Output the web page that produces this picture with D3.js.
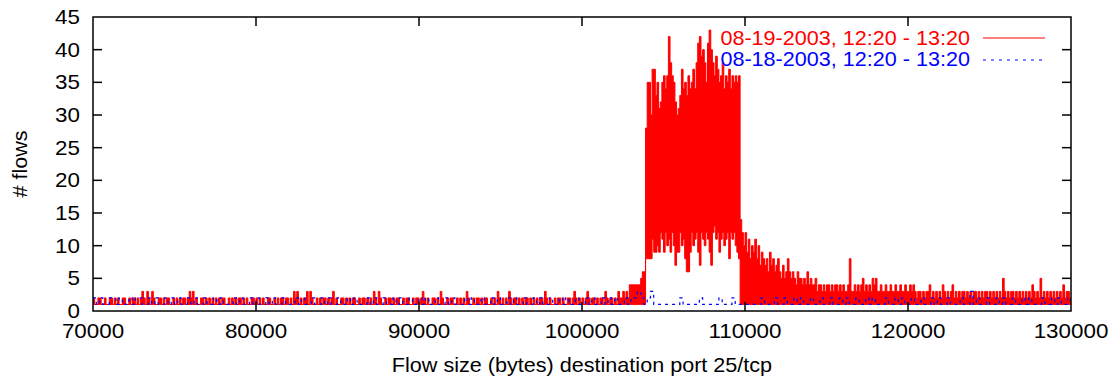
<!DOCTYPE html>
<html><head><meta charset="utf-8">
<script src="https://cdn.jsdelivr.net/npm/d3@7"></script>
<style>body{margin:0;background:#fff}svg{display:block}</style>
</head><body>
<svg id="chart" width="1118" height="380"></svg>
<script>
// ---- data ----
const xTicks = [70000, 80000, 90000, 100000, 110000, 120000, 130000];
const yTicks = [0, 5, 10, 15, 20, 25, 30, 35, 40, 45];
const xTitle = "Flow size (bytes) destination port 25/tcp";
const yTitle = "# flows";
const seriesLabels = ["08-19-2003, 12:20 - 13:20", "08-18-2003, 12:20 - 13:20"];

// red series (08-19): per 100-byte bin maximum, from 70000
const redBinStart = 70000, redBinWidth = 100;
const redMax = [
2,1,1,2,2,1,1,2,1,1,2,2,1,2,1,2,1,1,2,2,1,1,2,1,2,
2,1,2,1,2,3,2,1,3,2,1,3,2,1,1,2,2,1,2,1,2,2,1,1,2,
1,2,1,2,1,2,2,1,2,3,2,3,1,2,1,1,2,2,1,2,1,2,1,2,1,
2,1,2,1,2,2,1,1,2,1,2,1,2,1,2,2,1,2,1,2,1,1,2,2,1,
2,1,2,1,2,1,1,2,2,1,1,2,1,2,1,2,2,1,2,2,1,2,1,3,2,
3,1,2,1,2,2,3,1,3,2,1,1,2,1,2,1,2,2,1,2,1,2,3,1,2,
1,1,2,2,1,2,1,2,1,2,2,1,1,2,1,2,2,1,2,1,2,1,3,2,1,
3,2,1,1,2,1,2,2,1,2,1,2,2,1,1,2,1,2,2,1,1,2,1,2,2,
1,2,3,2,1,2,1,1,2,2,1,2,1,3,2,1,1,2,1,2,2,1,1,2,1,
2,1,2,1,3,2,1,1,2,1,2,2,1,2,1,2,2,1,1,2,1,2,1,3,2,
1,2,1,2,1,3,2,1,2,2,1,2,1,2,1,2,2,1,2,1,2,1,2,1,2,
2,1,3,2,1,2,1,1,2,1,2,2,1,2,1,1,2,2,1,2,3,2,1,2,1,
2,1,2,3,2,1,2,2,1,2,1,2,2,1,3,2,1,2,2,1,2,1,3,2,2,
3,2,3,2,4,4,4,4,4,4,4,5,6,6,
28,35,35,30,37,37,33,35,31,32,35,36,34,36,42,38,36,35,32,30,
31,33,37,34,35,33,36,34,35,37,34,38,41,42,39,40,38,35,41,43,
40,38,36,39,37,35,36,38,34,36,35,37,34,36,35,36,35,36,
14,12,10,12,9,11,8,10,9,11,
8,10,7,9,8,7,8,6,9,7,
8,6,7,8,6,5,7,5,6,8,
6,5,6,5,4,6,5,5,4,5,
4,6,4,5,4,4,5,3,4,4,
3,4,3,4,4,3,4,3,4,4,
3,4,3,4,3,3,4,8,3,3,
4,3,4,3,4,5,3,4,3,4,
3,5,4,5,3,3,4,3,3,4,
3,3,4,3,3,4,3,3,4,3,
3,4,3,3,
4,3,4,3,2,3,3,2,3,2,
3,3,4,2,3,2,3,2,3,2,
4,3,2,3,2,3,4,2,3,2,
3,2,3,3,2,3,2,3,2,3,
3,2,3,2,3,2,3,3,2,3,
2,3,2,3,2,3,2,5,3,2,
3,2,3,3,2,3,2,3,2,3,
2,3,2,3,2,4,3,2,3,2,
5,2,3,2,3,2,3,2,3,2,
3,2,3,2,4,2,3,3,2
];
// red series minimum inside the burst (elsewhere the minimum is 1)
const redPeakStart = 103900;
const redPeakMin = [
8,8,8,8,11,9,9,10,9,12,11,9,12,10,11,9,12,10,7,9,
9,12,10,11,8,6,6,9,12,10,11,12,9,7,12,11,10,12,11,9,
7,12,13,11,12,9,11,12,10,11,12,8,12,11,12,10,9,8
];
// blue series (08-18): per 200-byte bin maximum, minimum 1
const blueBinStart = 70000, blueBinWidth = 200;
const blueMax = [
2,1,2,1,1,2,2,1,2,1,1,2,1,2,2,1,1,2,1,2,1,1,2,1,2,
1,2,1,1,2,1,2,1,1,2,1,1,2,1,2,1,1,1,2,1,2,1,1,2,1,
2,1,1,2,1,2,1,1,2,1,1,1,2,1,2,1,1,2,1,1,2,1,2,1,1,
2,1,1,2,1,2,1,1,1,2,1,2,1,1,2,1,1,2,1,2,1,1,2,1,1,
2,1,2,1,1,2,1,1,2,1,2,1,1,1,2,1,2,1,1,2,1,1,2,1,2,
1,1,2,1,2,1,1,2,1,1,2,1,2,1,1,2,1,1,2,1,2,1,1,2,1,
1,2,1,2,1,1,2,1,2,1,2,1,1,2,1,2,2,3,2,1,2,3,1,1,1,
1,1,1,1,1,2,1,1,1,1,1,2,1,1,1,1,1,2,1,1,1,2,1,1,1,
1,1,1,1,1,2,1,1,1,2,1,1,2,1,1,2,1,2,1,1,2,1,1,2,1,
1,2,1,1,2,1,2,1,1,2,1,1,2,1,2,1,1,1,2,1,1,2,1,2,1,
1,2,1,1,2,1,1,2,1,2,1,1,2,1,1,1,2,1,1,3,1,2,1,1,2,
1,1,2,1,2,1,1,2,1,1,2,1,2,1,1,1,2,1,1,2,1,2,1,1,2
];

// ---- layout ----
const svg = d3.select("#chart");
const L = 93, R = 1071, T = 17, B = 311;
const x = d3.scaleLinear().domain([70000, 130000]).range([L, R]);
const y = d3.scaleLinear().domain([0, 45]).range([B, T]);
const FONT = "'Liberation Sans', Arial, Helvetica, sans-serif";

function txt(px, py, s, anchor, color, sx, rot) {
  return svg.append("text")
    .attr("transform", `translate(${px},${py})` + (rot ? ` rotate(${rot})` : "") + ` scale(${sx},1)`)
    .attr("text-anchor", anchor).attr("fill", color)
    .style("font-family", FONT).style("font-size", "20px").text(s);
}

svg.append("defs").append("clipPath").attr("id", "clip")
  .append("rect").attr("x", L).attr("y", T).attr("width", R - L).attr("height", B - T);

// red points
const redPts = redMax.map((v, i) => {
  const bx = redBinStart + i * redBinWidth;
  const k = Math.round((bx - redPeakStart) / redBinWidth);
  const mn = (k >= 0 && k < redPeakMin.length) ? redPeakMin[k] : 1;
  return {x: bx, max: v, min: mn};
});
redPts.push({x: redBinStart + redMax.length * redBinWidth, max: redMax[redMax.length - 1], min: 1});

const bluePts = blueMax.map((v, i) => ({x: blueBinStart + i * blueBinWidth, v}));
bluePts.push({x: blueBinStart + blueMax.length * blueBinWidth, v: blueMax[blueMax.length - 1]});

const g = svg.append("g").attr("clip-path", "url(#clip)");
g.append("path").datum(redPts)
  .attr("d", d3.area().x(d => x(d.x)).y0(d => y(d.min)).y1(d => y(d.max)).curve(d3.curveStepAfter))
  .attr("fill", "#ff0000").attr("stroke", "#ff0000").attr("stroke-width", 1);

g.append("path").datum(bluePts)
  .attr("d", d3.line().x(d => x(d.x)).y(d => y(d.v)).curve(d3.curveStepAfter))
  .attr("fill", "none").attr("stroke", "#0000ff").attr("stroke-width", 1.2)
  .attr("stroke-dasharray", "3,4");

// frame
svg.append("rect").attr("x", L).attr("y", T).attr("width", R - L).attr("height", B - T)
  .attr("fill", "none").attr("stroke", "#000").attr("stroke-width", 1.5);

// ticks
const TL = 9;
yTicks.forEach(v => {
  if (v > 0 && v < 45) {
    svg.append("line").attr("x1", L).attr("x2", L + TL).attr("y1", y(v)).attr("y2", y(v)).attr("stroke", "#000").attr("stroke-width", 1.5);
    svg.append("line").attr("x1", R).attr("x2", R - TL).attr("y1", y(v)).attr("y2", y(v)).attr("stroke", "#000").attr("stroke-width", 1.5);
  }
  txt(80, y(v) + 7, String(v), "end", "#000", 1.12);
});
xTicks.forEach(v => {
  if (v > 70000 && v < 130000) {
    svg.append("line").attr("x1", x(v)).attr("x2", x(v)).attr("y1", B).attr("y2", B - TL).attr("stroke", "#000").attr("stroke-width", 1.5);
    svg.append("line").attr("x1", x(v)).attr("x2", x(v)).attr("y1", T).attr("y2", T + TL).attr("stroke", "#000").attr("stroke-width", 1.5);
  }
  txt(x(v), 338, String(v), "middle", "#000", 1.12);
});

// titles
txt(582, 372, xTitle, "middle", "#000", 1.08);
txt(27, 164, yTitle, "middle", "#000", 1.08, -90);

// legend
txt(970, 45, seriesLabels[0], "end", "#ff0000", 1.08);
txt(970, 66, seriesLabels[1], "end", "#0000ff", 1.08);
svg.append("line").attr("x1", 983).attr("x2", 1045).attr("y1", 38).attr("y2", 38).attr("stroke", "#ff0000").attr("stroke-width", 1);
svg.append("line").attr("x1", 983).attr("x2", 1042).attr("y1", 60).attr("y2", 60).attr("stroke", "#0000ff").attr("stroke-width", 1).attr("stroke-dasharray", "3,5");
</script>
</body></html>
